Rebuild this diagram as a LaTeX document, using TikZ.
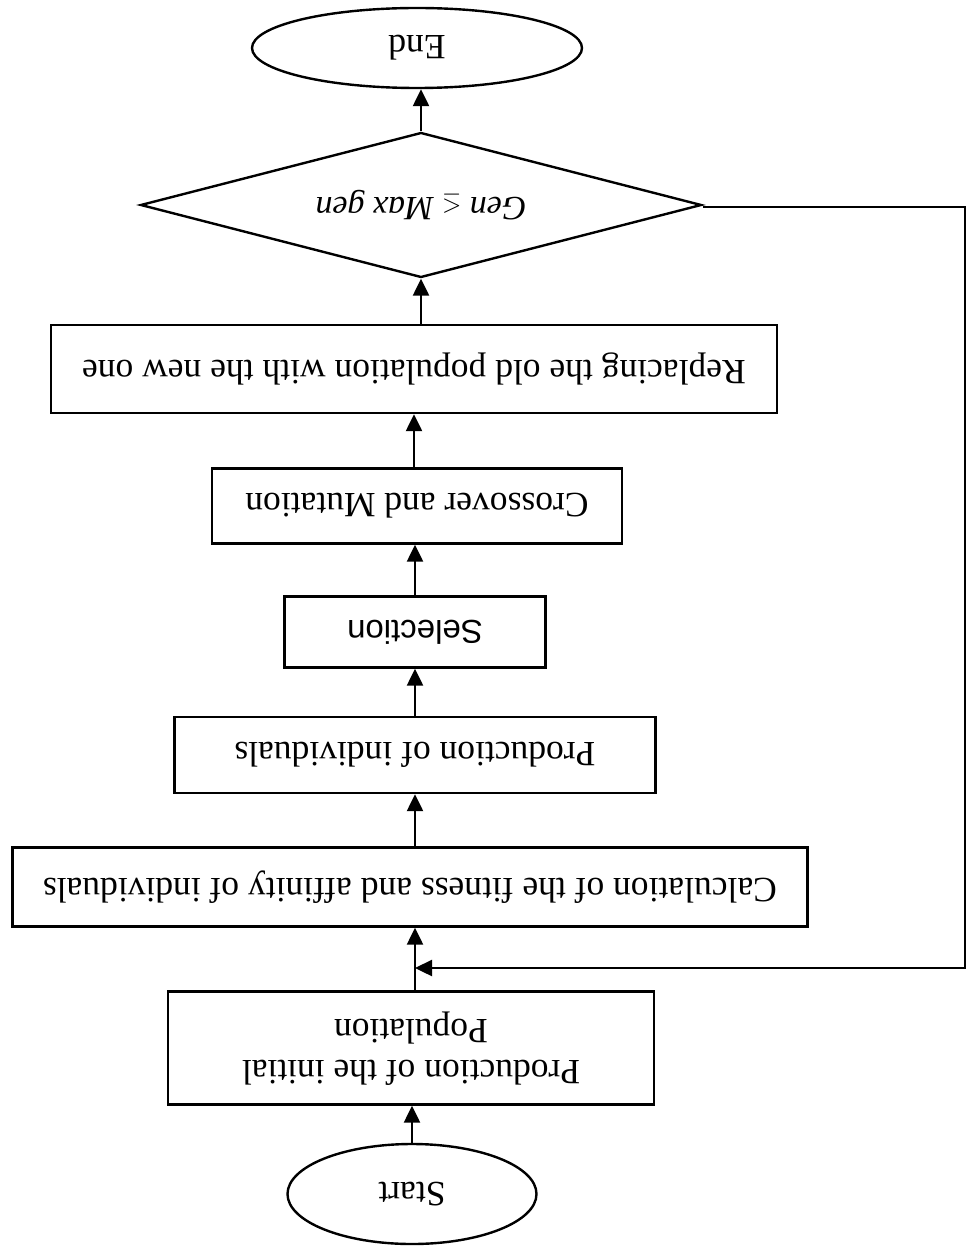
\documentclass[tikz,border=0pt]{standalone}
\usepackage{fontspec}
\setmainfont{Liberation Serif}
\newfontfamily\selfont{Liberation Sans}
\usetikzlibrary{shapes.geometric,arrows.meta}
\tikzset{
  box/.style={draw, line width=2.4pt, rectangle, inner sep=0pt, align=center},
  oval/.style={draw, line width=2.4pt, ellipse, inner sep=0pt},
  decision/.style={draw, line width=2.4pt, diamond, inner sep=0pt, aspect=3.9},
  arr/.style={line width=2.4pt, -{Triangle[length=17pt,width=16pt]}},
  plain/.style={line width=2.4pt},
  txt/.style={font=\fontsize{35.5}{42}\selectfont}
}
\newcommand{\upd}[1]{\rotatebox{180}{#1}}
\begin{document}
\begin{tikzpicture}[x=1pt,y=-1pt]
\useasboundingbox (0,0) rectangle (969,1249);
\node[oval, txt, minimum width=330pt, minimum height=80pt] (end) at (417,48) {\upd{End}};
\node[decision, minimum width=561pt, minimum height=145pt] (dec) at (421,205) {\upd{\fontsize{34}{40}\selectfont\itshape Gen $\leq$ Max gen}};
\node[box, txt, minimum width=726pt, minimum height=88pt] (rep) at (414,369) {\upd{Replacing the old population with the new one}};
\node[box, txt, minimum width=410pt, minimum height=75pt] (cross) at (417,506) {\upd{Crossover and Mutation}};
\node[box, minimum width=261pt, minimum height=71pt] (sel) at (415,632) {\upd{\selfont\fontsize{33}{38}\selectfont Selection}};
\node[box, txt, minimum width=481pt, minimum height=76pt] (pind) at (415,755) {\upd{Production of individuals}};
\node[box, txt, minimum width=795pt, minimum height=79pt] (calc) at (410,887) {\upd{Calculation of the fitness and affinity of individuals}};
\node[box, txt, minimum width=486pt, minimum height=113pt] (init) at (411,1048) {\upd{\begin{tabular}{@{}c@{}}Production of the initial\\[-1pt]Population\end{tabular}}};
\node[oval, txt, minimum width=249pt, minimum height=100pt] (start) at (412,1194) {\upd{Start}};
\coordinate (join) at (415,968);
\coordinate (corner) at (965,207);
\draw[arr] (start.north) -- (start.north |- init.south);
\draw[plain] (init.north -| join) -- (join);
\draw[arr] (join) -- (join |- calc.south);
\draw[arr] (calc.north -| pind.south) -- (pind.south);
\draw[arr] (pind.north) -- (pind.north |- sel.south);
\draw[arr] (sel.north) -- (sel.north |- cross.south);
\draw[arr] (cross.north -| rep.south) -- (rep.south);
\draw[arr] (rep.north -| dec.south) -- (dec.south);
\draw[arr] (dec.north) -- (dec.north |- end.south);
\draw[arr] (dec.east |- corner) -- (corner) |- (join);
\end{tikzpicture}
\end{document}
